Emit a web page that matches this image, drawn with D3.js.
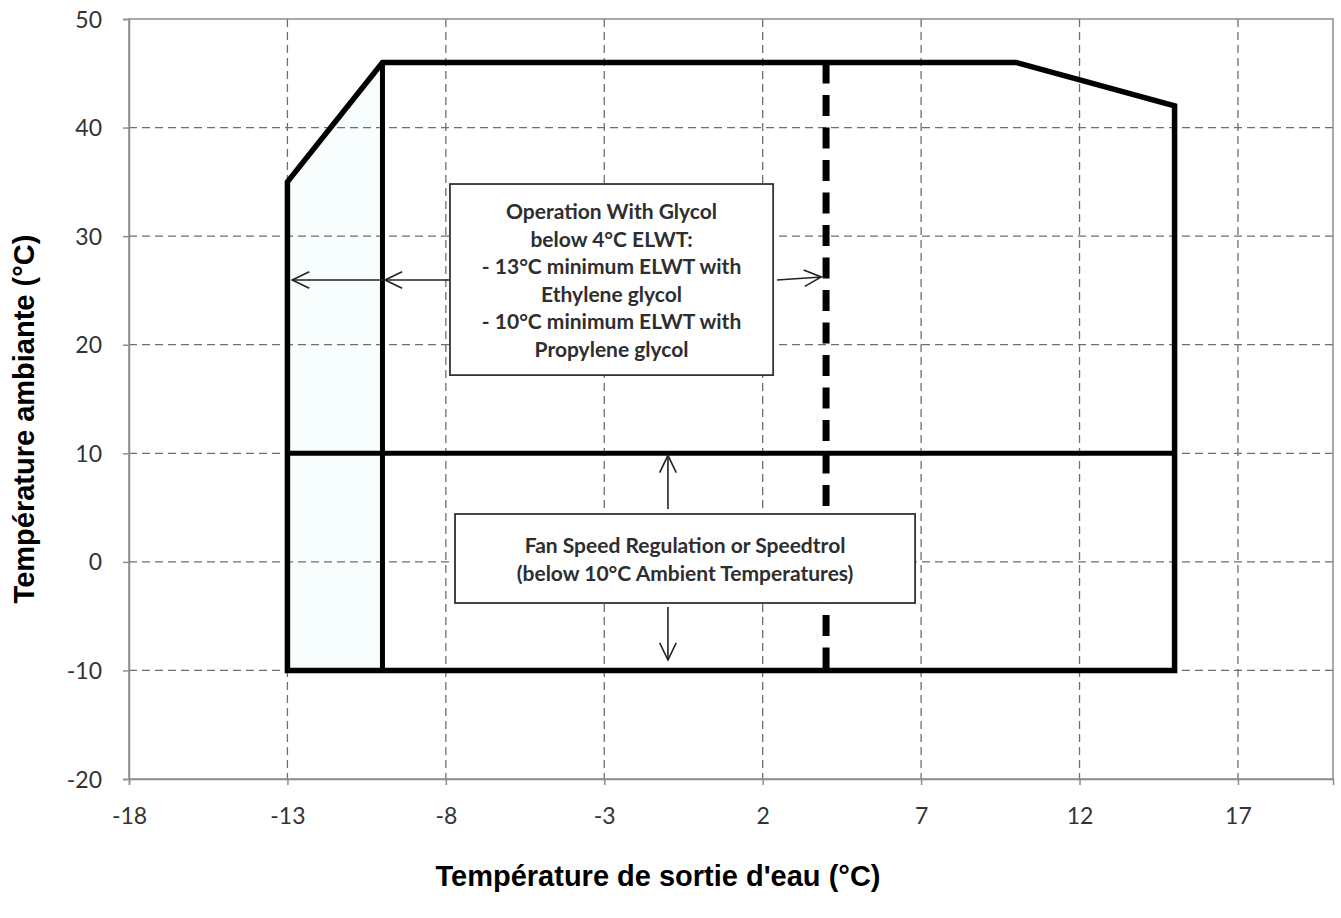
<!DOCTYPE html>
<html><head><meta charset="utf-8">
<script src="https://cdn.jsdelivr.net/npm/d3@7"></script>
<style>body{margin:0;background:#fff}svg{display:block}</style>
</head><body><svg id="c" width="1341" height="918"></svg>
<script>
// ---- data ----
const xTicks = [-18, -13, -8, -3, 2, 7, 12, 17];
const yTicks = [-20, -10, 0, 10, 20, 30, 40, 50];
const xDomain = [-18, 20];
const yDomain = [-20, 50];
// operating envelope (water outlet temp, ambient temp)
const envelopeX = [-13, -13, -10, 10, 15, 15, -13];
const envelopeY = [-10, 35, 46, 46, 42, -10, -10];
// glycol limit line at -10°C
const glycolLineX = [-10, -10];
const glycolLineY = [-10, 46];
// fan speed regulation limit (ambient 10°C)
const fanLineX = [-13, 15];
const fanLineY = [10, 10];
// 4°C ELWT dashed limit
const elwtLineX = [4, 4];
const elwtLineY = [46, -10];
// annotation boxes
const glycolText = ["Operation With Glycol", "below 4°C ELWT:", "- 13°C minimum ELWT with", "Ethylene glycol", "- 10°C minimum ELWT with", "Propylene glycol"];
const fanText = ["Fan Speed Regulation or Speedtrol", "(below 10°C Ambient Temperatures)"];
const glycolBox = {x0: -7.87, x1: 2.33, y0: 17.2, y1: 34.8};
const fanBox = {x0: -7.71, x1: 6.81, y0: -3.79, y1: 4.41};
// arrows [x1,y1,x2,y2] (tail -> head)
const arrows = [
  [-10.0, 25.96, -12.85, 25.96],
  [-7.87, 25.96, -9.92, 25.96],
  [2.45, 25.96, 3.85, 26.24],
  [-0.99, 4.87, -0.99, 9.8],
  [-0.99, -4.16, -0.99, -9.04]
];
const xTitle = "Température de sortie d'eau (°C)";
const yTitle = "Température ambiante (°C)";

// ---- layout ----
const svg = d3.select("#c");
const m = {l: 129, r: 1333, t: 19, b: 779};
const x = d3.scaleLinear().domain(xDomain).range([m.l, m.r]);
const y = d3.scaleLinear().domain(yDomain).range([m.b, m.t]);

// faint tint of glycol region
const tint = "#f8fdfd";
svg.append("path").attr("d", d3.line()([[x(-13),y(-10)],[x(-13),y(35)],[x(-10),y(46)],[x(-10),y(-10)]]) + "Z").attr("fill", tint);

// gridlines
const grid = svg.append("g").attr("stroke", "#6e6e6e").attr("stroke-width", 1.3).attr("stroke-dasharray", "8,5");
grid.selectAll(".vx").data(xTicks.filter(d => d > xDomain[0])).join("line")
  .attr("x1", d => x(d)).attr("x2", d => x(d)).attr("y1", m.t).attr("y2", m.b);
grid.selectAll(".hy").data(yTicks.filter(d => d > yDomain[0] && d < yDomain[1])).join("line")
  .attr("y1", d => y(d)).attr("y2", d => y(d)).attr("x1", m.l).attr("x2", m.r);

// frame
svg.append("rect").attr("x", m.l).attr("y", m.t).attr("width", m.r - m.l).attr("height", m.b - m.t)
  .attr("fill", "none").attr("stroke", "#8c8c8c").attr("stroke-width", 1.5);

// axes
const fmt = d => String(d);
const xAxis = svg.append("g").attr("transform", `translate(0,${m.b})`)
  .call(d3.axisBottom(x).tickValues(xTicks).tickSize(6).tickPadding(23).tickFormat(fmt));
const yAxis = svg.append("g").attr("transform", `translate(${m.l},0)`)
  .call(d3.axisLeft(y).tickValues(yTicks).tickSize(6).tickPadding(21).tickFormat(fmt));
[xAxis, yAxis].forEach(a => {
  a.select(".domain").attr("stroke", "#8c8c8c").attr("stroke-width", 1.5);
  a.selectAll(".tick line").attr("stroke", "#8c8c8c").attr("stroke-width", 1.5);
  a.selectAll(".tick text").attr("fill", "#333").attr("font-family", "Lato, 'Open Sans', sans-serif").attr("font-size", 23);
});
yAxis.selectAll(".tick text").attr("dy", "0.35em");

const toPts = (xs, ys) => xs.map((v, i) => [x(v), y(ys[i])]);
const line = d3.line();

// envelope
svg.append("path").attr("d", line(toPts(envelopeX, envelopeY)) + "Z").attr("fill", "none")
  .attr("stroke", "#000").attr("stroke-width", 5.5).attr("stroke-linejoin", "miter");
svg.append("path").attr("d", line(toPts(glycolLineX, glycolLineY))).attr("stroke", "#000").attr("stroke-width", 5);
svg.append("path").attr("d", line(toPts(fanLineX, fanLineY))).attr("stroke", "#000").attr("stroke-width", 5);
svg.append("path").attr("d", line(toPts(elwtLineX, elwtLineY))).attr("stroke", "#000").attr("stroke-width", 7)
  .attr("stroke-dasharray", "21,11.5").attr("stroke-linecap", "butt");

// arrows
const ag = svg.append("g").attr("stroke", "#222").attr("stroke-width", 1.6).attr("fill", "none");
arrows.forEach(a => {
  const x1 = x(a[0]), y1 = y(a[1]), x2 = x(a[2]), y2 = y(a[3]);
  ag.append("line").attr("x1", x1).attr("y1", y1).attr("x2", x2).attr("y2", y2);
  const ang = Math.atan2(y2 - y1, x2 - x1), L = 19, w = 0.45;
  ag.append("path").attr("d", line([
    [x2 - L*Math.cos(ang - w), y2 - L*Math.sin(ang - w)], [x2, y2],
    [x2 - L*Math.cos(ang + w), y2 - L*Math.sin(ang + w)]]));
});

// text boxes
function box(b, lines, lh, fs) {
  const X0 = x(b.x0), X1 = x(b.x1), Y0 = y(b.y1), Y1 = y(b.y0);
  svg.append("rect").attr("x", X0).attr("y", Y0).attr("width", X1 - X0).attr("height", Y1 - Y0)
    .attr("fill", "#fff").attr("stroke", "#333").attr("stroke-width", 1.8);
  const cy = (Y0 + Y1) / 2 + 1, n = lines.length;
  svg.append("g").selectAll("text").data(lines).join("text")
    .attr("x", (X0 + X1) / 2).attr("y", (d, i) => cy + (i - (n - 1) / 2) * lh)
    .attr("dy", "0.35em").attr("text-anchor", "middle")
    .attr("font-family", "Lato, 'Open Sans', sans-serif").attr("font-weight", "bold")
    .attr("font-size", fs).attr("fill", "#2e2e2e").text(d => d);
}
box(glycolBox, glycolText, 27.6, 21);
box(fanBox, fanText, 28, 21);

// axis titles
svg.append("text").attr("x", 658).attr("y", 886).attr("text-anchor", "middle")
  .attr("font-family", "Liberation Sans, Arial, sans-serif").attr("font-weight", "bold").attr("font-size", 29).text(xTitle);
svg.append("text").attr("transform", "translate(34,419) rotate(-90)").attr("text-anchor", "middle")
  .attr("font-family", "Liberation Sans, Arial, sans-serif").attr("font-weight", "bold").attr("font-size", 29).text(yTitle);
</script></body></html>
